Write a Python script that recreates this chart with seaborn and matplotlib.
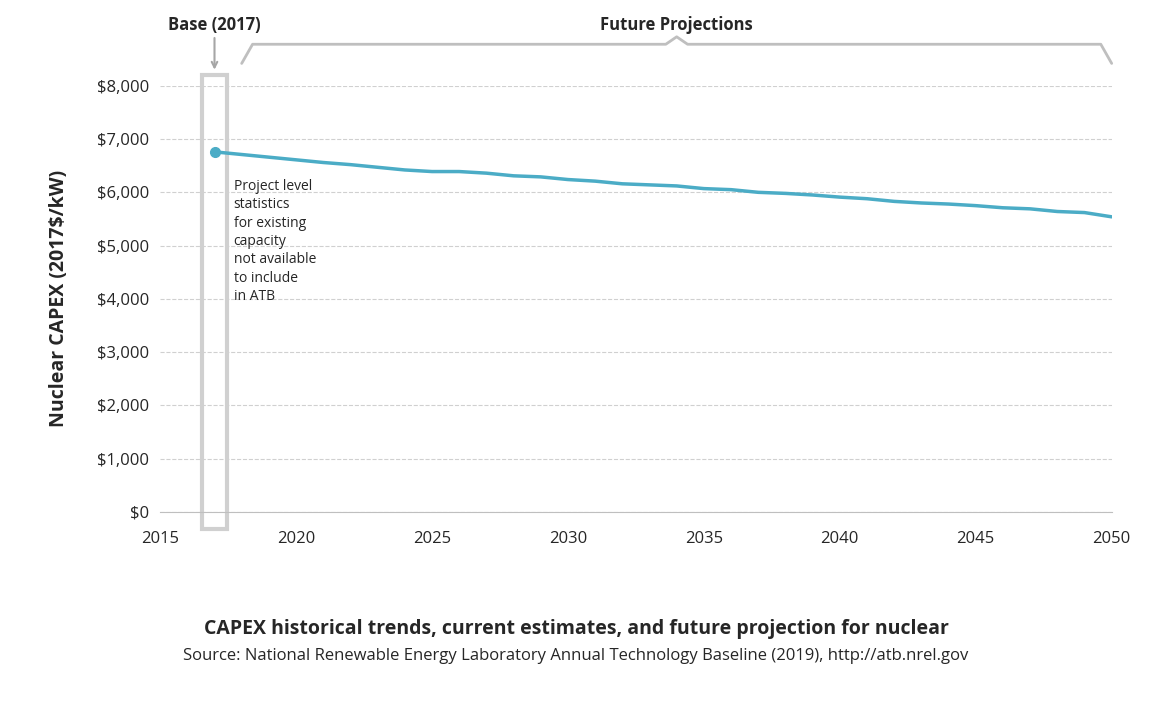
import numpy as np
import matplotlib.pyplot as plt
import seaborn as sns
import pandas as pd
from matplotlib.patches import Rectangle

years = list(range(2017, 2051))
capex = [6760, 6710, 6660, 6610, 6560, 6520, 6470, 6420, 6390, 6390, 6360, 6310,
         6290, 6240, 6210, 6160, 6140, 6120, 6070, 6050, 6000, 5980, 5950, 5910,
         5880, 5830, 5800, 5780, 5750, 5710, 5690, 5640, 5620, 5540]
x_ticks = [2015, 2020, 2025, 2030, 2035, 2040, 2045, 2050]
y_ticks = [0, 1000, 2000, 3000, 4000, 5000, 6000, 7000, 8000]
line_color = '#4bacc6'

sns.set_style("white")
plt.rcParams['font.family'] = ['Open Sans', 'DejaVu Sans']

fig = plt.figure(figsize=(11.52, 7.21), dpi=100)
ax = fig.add_axes([0.139, 0.29, 0.826, 0.591])

df = pd.DataFrame({'year': years, 'capex': capex})
sns.lineplot(data=df, x='year', y='capex', color=line_color, linewidth=2.5, ax=ax)
ax.plot(years[0], capex[0], 'o', color=line_color, markersize=7)

ax.set_xlim(2015, 2050)
ax.set_ylim(0, 8000)
ax.set_xticks(x_ticks)
ax.set_yticks(y_ticks)
ax.set_yticklabels(['${:,}'.format(v) for v in y_ticks])
ax.tick_params(labelsize=12, length=0)
ax.tick_params(axis='x', pad=14)
ax.tick_params(axis='y', pad=8)
ax.grid(axis='y', linestyle='--', color='#d0d0d0', linewidth=0.8)
for s in ['top', 'right', 'left']:
    ax.spines[s].set_visible(False)
ax.spines['bottom'].set_color('#bfbfbf')
ax.set_xlabel('')
ax.set_ylabel('Nuclear CAPEX (2017$/kW)', fontsize=14, fontweight='bold', labelpad=20)

# Base year box
ax.add_patch(Rectangle((2016.55, -330), 0.9, 8530, fill=False, edgecolor='#d0d0d0',
                       linewidth=3, clip_on=False))
ax.annotate('', xy=(2017, 8250), xytext=(2017, 8950), annotation_clip=False,
            arrowprops=dict(arrowstyle='->', color='#a6a6a6', lw=1.5))
ax.text(2017, 9150, 'Base (2017)', ha='center', va='center', fontsize=12, fontweight='bold')

# Future projections brace
bx = [2018, 2018.4, 2033.6, 2034, 2034.4, 2049.6, 2050]
by = [8420, 8780, 8780, 8920, 8780, 8780, 8420]
ax.plot(bx, by, color='#bfbfbf', linewidth=2, clip_on=False)
ax.text(2034, 9150, 'Future Projections', ha='center', va='center', fontsize=12, fontweight='bold')

ax.text(2017.7, 6250, 'Project level\nstatistics\nfor existing\ncapacity\nnot available\nto include\nin ATB',
        ha='left', va='top', fontsize=10, linespacing=1.3)

fig.text(0.5, 0.12, 'CAPEX historical trends, current estimates, and future projection for nuclear',
         ha='center', fontsize=14, fontweight='bold')
fig.text(0.5, 0.085, 'Source: National Renewable Energy Laboratory Annual Technology Baseline (2019), http://atb.nrel.gov',
         ha='center', fontsize=12)

fig.savefig('out.png', dpi=100)
